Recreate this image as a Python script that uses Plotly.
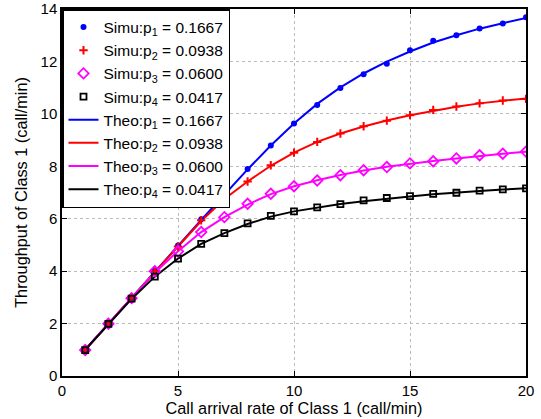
import plotly.graph_objects as go

x = list(range(1, 21))
labels = ["0.1667", "0.0938", "0.0600", "0.0417"]

sim_p1 = [0.99, 1.99, 2.97, 4.02, 4.98, 5.98, 6.93, 7.90, 8.79, 9.63, 10.34, 10.99, 11.51, 11.91, 12.43, 12.79, 13.00, 13.26, 13.45, 13.69]
sim_p2 = [0.99, 1.99, 2.97, 4.00, 4.94, 5.94, 6.75, 7.42, 8.04, 8.52, 8.93, 9.25, 9.53, 9.74, 9.95, 10.15, 10.28, 10.40, 10.51, 10.57]
sim_p3 = [0.99, 1.99, 2.97, 4.00, 4.75, 5.49, 6.06, 6.57, 6.95, 7.24, 7.46, 7.66, 7.85, 7.97, 8.11, 8.19, 8.30, 8.42, 8.48, 8.56]
sim_p4 = [0.99, 1.99, 2.95, 3.79, 4.48, 5.04, 5.45, 5.82, 6.11, 6.28, 6.43, 6.56, 6.70, 6.79, 6.86, 6.95, 6.99, 7.07, 7.12, 7.16]

theo_p1 = [1.00, 2.00, 2.98, 3.97, 4.96, 5.95, 6.93, 7.88, 8.79, 9.63, 10.38, 11.01, 11.54, 11.99, 12.38, 12.72, 13.00, 13.25, 13.46, 13.66]
theo_p2 = [1.00, 2.00, 2.97, 3.96, 4.94, 5.91, 6.75, 7.42, 8.02, 8.52, 8.93, 9.25, 9.52, 9.75, 9.95, 10.12, 10.27, 10.40, 10.50, 10.59]
theo_p3 = [1.00, 2.00, 2.97, 3.95, 4.76, 5.49, 6.06, 6.54, 6.94, 7.24, 7.47, 7.67, 7.84, 7.98, 8.10, 8.20, 8.30, 8.40, 8.48, 8.55]
theo_p4 = [1.00, 1.99, 2.94, 3.79, 4.48, 5.04, 5.45, 5.80, 6.08, 6.28, 6.43, 6.56, 6.67, 6.77, 6.85, 6.93, 7.00, 7.06, 7.11, 7.16]

x_ticks = [0, 5, 10, 15, 20]
y_ticks = [0, 2, 4, 6, 8, 10, 12, 14]

colors = ["#0000ff", "#ff0000", "#ff00ff", "#000000"]
sims = [sim_p1, sim_p2, sim_p3, sim_p4]
theos = [theo_p1, theo_p2, theo_p3, theo_p4]
markers = [
    dict(symbol="circle", size=6),
    dict(symbol="cross-thin", size=6, line=dict(width=2, color=colors[1])),
    dict(symbol="diamond-open", size=8, line=dict(width=1.8)),
    dict(symbol="square-open", size=6, line=dict(width=1.8)),
]

fig = go.Figure()
for i in range(4):
    fig.add_trace(go.Scatter(
        x=x, y=theos[i], mode="lines",
        line=dict(color=colors[i], width=2),
        name=f"Theo:p<sub>{i+1}</sub> = {labels[i]}",
        legendrank=10 + i,
    ))
for i in range(4):
    m = dict(markers[i])
    m["color"] = colors[i]
    fig.add_trace(go.Scatter(
        x=x, y=sims[i], mode="markers",
        marker=m,
        name=f"Simu:p<sub>{i+1}</sub> = {labels[i]}",
        legendrank=i,
    ))

axis_common = dict(
    showline=True, linecolor="black", linewidth=1.5, mirror="ticks",
    ticks="inside", ticklen=5, tickcolor="black",
    showgrid=True, gridcolor="#bbbbbb", griddash="dot", gridwidth=1,
    zeroline=False, automargin=False,
    tickfont=dict(size=15, color="black"),
)

fig.update_layout(
    width=541, height=419,
    margin=dict(l=62, r=15, t=9, b=43),
    paper_bgcolor="white", plot_bgcolor="white",
    font=dict(family="Liberation Sans, Arial, sans-serif", color="black", size=15),
    xaxis=dict(range=[0, 20], tickvals=x_ticks,
               title=dict(text="Call arrival rate of Class 1 (call/min)", font=dict(size=16.3), standoff=5),
               **axis_common),
    yaxis=dict(range=[0, 14], tickvals=y_ticks,
               title=dict(text="Throughput of Class 1 (call/min)", font=dict(size=16.3), standoff=9),
               **axis_common),
    legend=dict(x=0, y=1, xanchor="left", yanchor="top",
                bgcolor="white", bordercolor="black", borderwidth=1.5,
                font=dict(size=15.5), tracegroupgap=0, itemwidth=30),
    showlegend=True,
)

fig.write_html("out.html")
